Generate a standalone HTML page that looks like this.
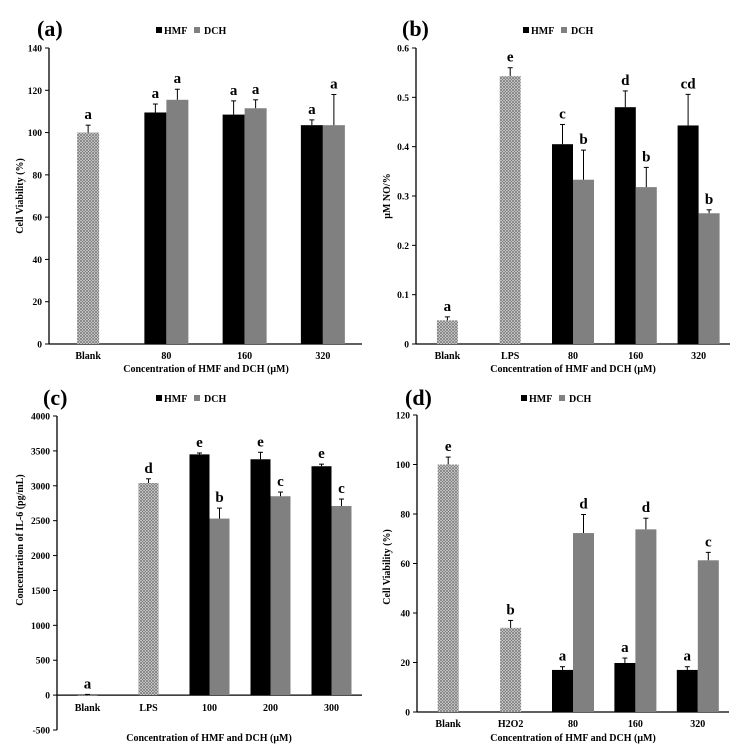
<!DOCTYPE html>
<html><head><meta charset="utf-8">
<style>
html,body{margin:0;padding:0;background:#fff;}
svg{display:block;font-family:"Liberation Serif",serif;font-weight:bold;}
</style></head>
<body>
<svg id="fig" width="744" height="754" viewBox="0 0 744 754" xmlns="http://www.w3.org/2000/svg">
<defs>
<pattern id="hatch" patternUnits="userSpaceOnUse" width="3" height="3">
<rect width="3" height="3" fill="#e6e6e6"/>
<path d="M0,3 L3,0 M0,0 L3,3" stroke="#7a7a7a" stroke-width="0.8"/>
</pattern>
</defs>
</svg>
<script>
// Panel (a)
const aCats = ["Blank","80","160","320"];
const aCtrl = [100, null, null, null];
const aCtrlErr = [3.5, 0, 0, 0];
const aHMF = [null, 109.5, 108.5, 103.5];
const aHMFErr = [0, 4, 6.5, 2.5];
const aDCH = [null, 115.5, 111.5, 103.5];
const aDCHErr = [0, 5, 4, 14.5];
const aCtrlLet = ["a","","",""];
const aHMFLet = ["","a","a","a"];
const aDCHLet = ["","a","a","a"];
const aTicks = [0,20,40,60,80,100,120,140];
// Panel (b)
const bCats = ["Blank","LPS","80","160","320"];
const bCtrl = [0.048, 0.543, null, null, null];
const bCtrlErr = [0.007, 0.017, 0, 0, 0];
const bHMF = [null, null, 0.405, 0.48, 0.443];
const bHMFErr = [0, 0, 0.04, 0.033, 0.063];
const bDCH = [null, null, 0.333, 0.318, 0.265];
const bDCHErr = [0, 0, 0.06, 0.04, 0.007];
const bCtrlLet = ["a","e","","",""];
const bHMFLet = ["","","c","d","cd"];
const bDCHLet = ["","","b","b","b"];
const bTicks = [0,0.1,0.2,0.3,0.4,0.5,0.6];
// Panel (c)
const cCats = ["Blank","LPS","100","200","300"];
const cCtrl = [0, 3040, null, null, null];
const cCtrlErr = [10, 60, 0, 0, 0];
const cHMF = [null, null, 3450, 3380, 3280];
const cHMFErr = [0, 0, 20, 100, 30];
const cDCH = [null, null, 2530, 2850, 2710];
const cDCHErr = [0, 0, 150, 60, 100];
const cCtrlLet = ["a","d","","",""];
const cHMFLet = ["","","e","e","e"];
const cDCHLet = ["","","b","c","c"];
const cTicks = [-500,0,500,1000,1500,2000,2500,3000,3500,4000];
// Panel (d)
const dCats = ["Blank","H2O2","80","160","320"];
const dCtrl = [100, 34, null, null, null];
const dCtrlErr = [3, 3, 0, 0, 0];
const dHMF = [null, null, 17, 19.8, 17];
const dHMFErr = [0, 0, 1.3, 2, 1.3];
const dDCH = [null, null, 72.3, 73.8, 61.3];
const dDCHErr = [0, 0, 7.5, 4.5, 3.2];
const dCtrlLet = ["e","b","","",""];
const dHMFLet = ["","","a","a","a"];
const dDCHLet = ["","","d","d","c"];
const dTicks = [0,20,40,60,80,100,120];

const svg = document.getElementById('fig');
const NS = "http://www.w3.org/2000/svg";
function mk(tag, attrs, parent, text){
  const e = document.createElementNS(NS, tag);
  for (const k in attrs) e.setAttribute(k, attrs[k]);
  if (text !== undefined) e.textContent = text;
  (parent || svg).appendChild(e);
  return e;
}

function panel(p){
  const g = mk('g', {});
  
  
  const yS = v => p.y0 - (v - p.vmin) / (p.vmax - p.vmin) * (p.y0 - p.y1);
  const n = p.cats.length;
  const step = (p.x1 - p.x0) / n;
  const xC = i => p.x0 + step * (i + 0.5);
  const bw = p.bw;
  const zeroY = yS(0);
  // axes
  const ya = mk('line', {x1:p.x0, y1:p.y1, x2:p.x0, y2:p.y0, stroke:'#000','stroke-width':1.3}, g);
  
  
  const xa = mk('line', {x1:p.x0, y1:zeroY, x2:p.x1, y2:zeroY, stroke:'#000','stroke-width':1.3}, g);
  
  
  p.ticks.forEach(t => {
    const y = yS(t);
    mk('line', {x1:p.x0-4, y1:y, x2:p.x0, y2:y, stroke:'#000','stroke-width':1}, g);
    const tl = mk('text', {x:p.x0-7, y:y+3.5, 'font-size':9.5, 'text-anchor':'end'}, g, String(t));
    
    
  });
  function bar(x, v, err, fill, letter, kind, i){
    if (v === null) return;
    const top = yS(v);
    const r = mk('rect', {x:x-bw/2, y:Math.min(top,zeroY), width:bw, height:Math.max(Math.abs(zeroY-top),0.5), fill:fill}, g);
    
    
    const et = yS(v + err);
    mk('line', {x1:x, y1:top, x2:x, y2:et, stroke:'#000','stroke-width':1}, g);
    mk('line', {x1:x-2.5, y1:et, x2:x+2.5, y2:et, stroke:'#000','stroke-width':1}, g);
    if (letter){
      const lt = mk('text', {x:x, y:et-6, 'font-size':15, 'text-anchor':'middle'}, g, letter);
      
      
    }
  }
  for (let i = 0; i < n; i++){
    const c = xC(i);
    bar(c, p.ctrl[i], p.ctrlErr[i], 'url(#hatch)', p.ctrlLet[i], 'control', i);
    bar(c - bw/2, p.hmf[i], p.hmfErr[i], '#000', p.hmfLet[i], 'hmf', i);
    bar(c + bw/2, p.dch[i], p.dchErr[i], '#808080', p.dchLet[i], 'dch', i);
    const cl = mk('text', {x:c, y:p.catY, 'font-size':10, 'text-anchor':'middle'}, g, p.cats[i]);
    
    
  }
  const xt = mk('text', {x:p.xTitleX, y:p.xTitleY, 'font-size':10, 'text-anchor':'middle'}, g, 'Concentration of HMF and DCH (\u03BCM)');
  
  
  const yt = mk('text', {x:0, y:0, 'font-size':10, 'text-anchor':'middle', transform:'translate('+p.yTitleX+','+p.yTitleY+') rotate(-90)'}, g, p.ytitle);
  
  
  const pl = mk('text', {x:p.lblX, y:p.lblY, 'font-size':22}, g, '(' + p.id + ')');
  
  
  const lg = mk('g', {}, g);
  
  
  mk('rect', {x:p.legX, y:p.legY-7, width:6, height:6, fill:'#000'}, lg);
  mk('text', {x:p.legX+8, y:p.legY, 'font-size':10}, lg, 'HMF');
  mk('rect', {x:p.legX+38, y:p.legY-7, width:6, height:6, fill:'#808080'}, lg);
  mk('text', {x:p.legX+48, y:p.legY, 'font-size':10}, lg, 'DCH');
}

panel({id:'a', cats:aCats, ctrl:aCtrl, ctrlErr:aCtrlErr, hmf:aHMF, hmfErr:aHMFErr, dch:aDCH, dchErr:aDCHErr,
  ctrlLet:aCtrlLet, hmfLet:aHMFLet, dchLet:aDCHLet, ticks:aTicks, vmin:0, vmax:140,
  x0:49, x1:362, y0:344, y1:48, bw:22, catY:359, xTitleX:206, xTitleY:372, yTitleX:23, yTitleY:196,
  ytitle:'Cell Viability (%)', lblX:37, lblY:36, legX:156, legY:34});
panel({id:'b', cats:bCats, ctrl:bCtrl, ctrlErr:bCtrlErr, hmf:bHMF, hmfErr:bHMFErr, dch:bDCH, dchErr:bDCHErr,
  ctrlLet:bCtrlLet, hmfLet:bHMFLet, dchLet:bDCHLet, ticks:bTicks, vmin:0, vmax:0.6,
  x0:416, x1:730, y0:344, y1:48, bw:21, catY:359, xTitleX:573, xTitleY:372, yTitleX:390, yTitleY:196,
  ytitle:'\u03BCM NO/%', lblX:402, lblY:36, legX:523, legY:34});
panel({id:'c', cats:cCats, ctrl:cCtrl, ctrlErr:cCtrlErr, hmf:cHMF, hmfErr:cHMFErr, dch:cDCH, dchErr:cDCHErr,
  ctrlLet:cCtrlLet, hmfLet:cHMFLet, dchLet:cDCHLet, ticks:cTicks, vmin:-500, vmax:4000,
  x0:57, x1:362, y0:730, y1:416, bw:20, catY:711, xTitleX:209, xTitleY:741, yTitleX:23, yTitleY:540,
  ytitle:'Concentration of IL-6 (pg/mL)', lblX:43, lblY:405, legX:156, legY:402});
panel({id:'d', cats:dCats, ctrl:dCtrl, ctrlErr:dCtrlErr, hmf:dHMF, hmfErr:dHMFErr, dch:dDCH, dchErr:dDCHErr,
  ctrlLet:dCtrlLet, hmfLet:dHMFLet, dchLet:dDCHLet, ticks:dTicks, vmin:0, vmax:120,
  x0:417, x1:729, y0:712, y1:415, bw:21, catY:727, xTitleX:573, xTitleY:741, yTitleX:390, yTitleY:567,
  ytitle:'Cell Viability (%)', lblX:405, lblY:405, legX:521, legY:402});
</script>
</body></html>
